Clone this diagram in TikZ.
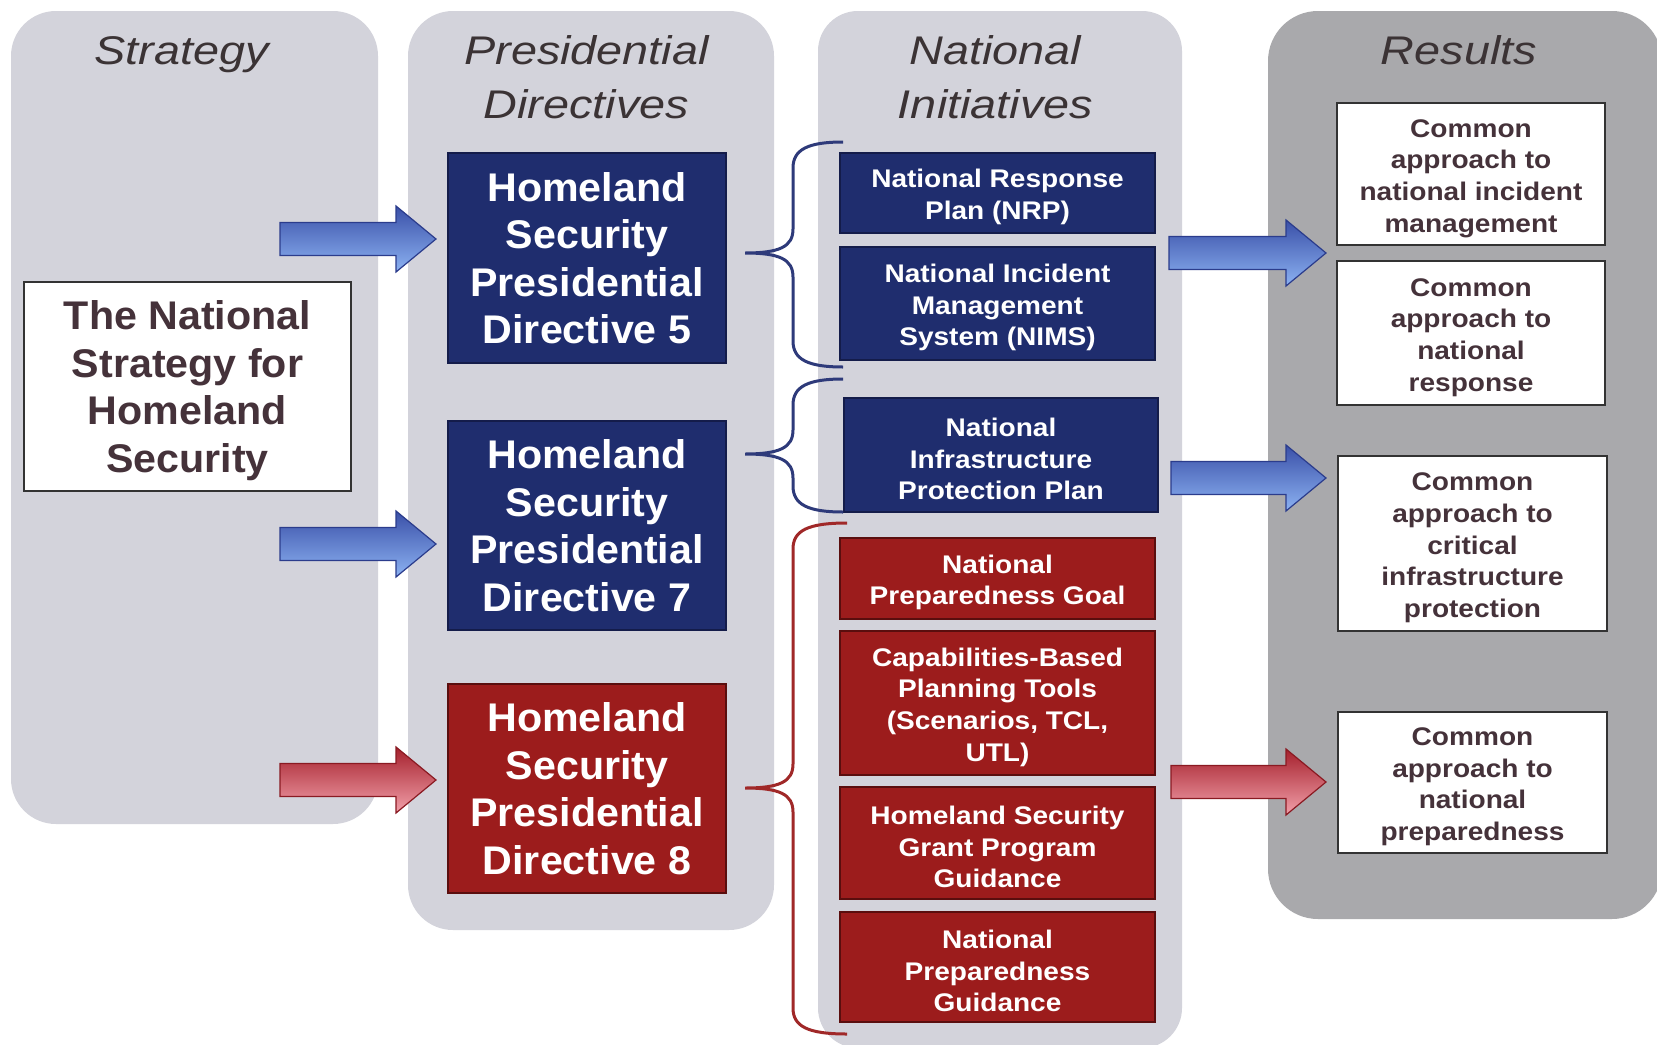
\documentclass[tikz,border=0pt]{standalone}
\usepackage{fontspec}
\setmainfont{Liberation Sans}
\newfontfamily\ttlfont{Liberation Sans}[FakeStretch=1.17]
\newfontfamily\bigfont{Liberation Sans}[FakeStretch=1.03]
\newfontfamily\smlfont{Liberation Sans}[FakeStretch=1.10]
\definecolor{panel}{HTML}{D3D3DB}
\definecolor{respanel}{HTML}{A9A9AC}
\definecolor{ttlc}{HTML}{3B3335}
\definecolor{wtext}{HTML}{45323A}
\definecolor{wline}{HTML}{333333}
\definecolor{bfill}{HTML}{1F2D6E}
\definecolor{bline}{HTML}{141C4A}
\definecolor{rfill}{HTML}{9C1C1C}
\definecolor{rline}{HTML}{5A0E0E}
\definecolor{abtop}{HTML}{3A50A8}
\definecolor{abbot}{HTML}{8CB2F2}
\definecolor{abline}{HTML}{2B3C8C}
\definecolor{artop}{HTML}{A5202C}
\definecolor{arbot}{HTML}{F2A0AA}
\definecolor{arline}{HTML}{8A1A22}
\definecolor{braceb}{HTML}{2E3A7A}
\definecolor{bracer}{HTML}{A02828}
\newcommand\smup{\rule{0pt}{26.5pt}}
\newcommand\bigup{\rule{0pt}{37pt}}
\newcommand\blockarrow[4]{%
  \shade[#1] (#2,#4-16.5) -- (#3-40,#4-16.5) -- (#3-40,#4-33) -- (#3,#4)
    -- (#3-40,#4+33) -- (#3-40,#4+16.5) -- (#2,#4+16.5) -- cycle;}
\newcommand\curlybrace[7]{%
  \draw[#1] (#2,#3) .. controls (#7+14,#3) and (#7,#3+8) .. (#7,#3+26)
    -- (#7,#6-24) .. controls (#7,#6-6) and (#7-14,#6) .. (#5,#6)
    .. controls (#7-14,#6) and (#7,#6+6) .. (#7,#6+24)
    -- (#7,#4-26) .. controls (#7,#4-8) and (#7+14,#4) .. (#2,#4);}
\begin{document}
\begin{tikzpicture}[x=1pt,y=-1pt,
  ttl/.style={font=\ttlfont\itshape\fontsize{40}{48}\selectfont, text=ttlc, anchor=base, inner sep=0pt},
  bigtxt/.style={font=\bigfont\bfseries\fontsize{40}{47.5}\selectfont},
  smltxt/.style={font=\smlfont\bfseries\fontsize{25.5}{31.7}\selectfont},
  wbox/.style={draw=wline, line width=1.6pt, fill=white, text=wtext, align=center, inner sep=0pt},
  bbox/.style={draw=bline, line width=1.4pt, fill=bfill, text=white, align=center, inner sep=0pt},
  rbox/.style={draw=rline, line width=1.4pt, fill=rfill, text=white, align=center, inner sep=0pt},
  barrow/.style={top color=abtop, bottom color=abbot, draw=abline, line width=1.2pt},
  rarrow/.style={top color=artop, bottom color=arbot, draw=arline, line width=1.2pt},
  bbrace/.style={draw=braceb, line width=3pt},
  rbrace/.style={draw=bracer, line width=3pt}]
\useasboundingbox (0,0) rectangle (1657,1044);
\fill[white] (0,0) rectangle (1657,1044);
% panels
\fill[panel, rounded corners=45pt] (11,11) rectangle (378,824);
\fill[panel, rounded corners=45pt] (408,11) rectangle (774,930);
\fill[panel, rounded corners=40pt] (818,11) rectangle (1182,1048);
\fill[respanel, rounded corners=50pt] (1268,11) rectangle (1662,919);
% titles
\node[ttl] (t1) at (181.5,64) {Strategy};
\node[ttl] (t2a) at (586.5,64) {Presidential};
\node[ttl] (t2b) at (586.5,118) {Directives};
\node[ttl] (t3a) at (995.5,64) {National};
\node[ttl] (t3b) at (995.5,118) {Initiatives};
\node[ttl] (t4) at (1459,64) {Results};
% arrows
\blockarrow{barrow}{280}{436}{239}
\blockarrow{barrow}{280}{436}{544}
\blockarrow{rarrow}{280}{436}{780}
\blockarrow{barrow}{1169}{1326}{253}
\blockarrow{barrow}{1171}{1326}{478}
\blockarrow{rarrow}{1171}{1326}{782}
% strategy
\node[wbox, bigtxt, minimum width=327pt, minimum height=209pt] (strat) at (187.5,386.5)
  {\bigup The National\\Strategy for\\Homeland\\Security};
% directives
\node[bbox, bigtxt, minimum width=278pt, minimum height=210pt] (h5) at (587,258)
  {Homeland\\Security\\Presidential\\Directive 5};
\node[bbox, bigtxt, minimum width=278pt, minimum height=209pt] (h7) at (587,525.5)
  {Homeland\\Security\\Presidential\\Directive 7};
\node[rbox, bigtxt, minimum width=278pt, minimum height=209pt] (h8) at (587,788.5)
  {Homeland\\Security\\Presidential\\Directive 8};
% initiatives
\node[bbox, smltxt, minimum width=315pt, minimum height=80pt] (nrp) at (997.5,193)
  {\smup National Response\\Plan (NRP)};
\node[bbox, smltxt, minimum width=315pt, minimum height=113pt] (nims) at (997.5,303.5)
  {\smup National Incident\\Management\\System (NIMS)};
\node[bbox, smltxt, minimum width=314pt, minimum height=114pt] (nipp) at (1001,455)
  {\smup National\\Infrastructure\\Protection Plan};
\node[rbox, smltxt, minimum width=315pt, minimum height=81pt] (npg) at (997.5,578.5)
  {\smup National\\Preparedness Goal};
\node[rbox, smltxt, minimum width=315pt, minimum height=144pt] (cbpt) at (997.5,703)
  {\smup Capabilities-Based\\Planning Tools\\(Scenarios, TCL,\\UTL)};
\node[rbox, smltxt, minimum width=315pt, minimum height=112pt] (hsgp) at (997.5,843)
  {\smup Homeland Security\\Grant Program\\Guidance};
\node[rbox, smltxt, minimum width=315pt, minimum height=110pt] (npgd) at (997.5,967)
  {\smup National\\Preparedness\\Guidance};
% results
\node[wbox, smltxt, minimum width=268pt, minimum height=142pt] (r1) at (1471,174)
  {\smup Common\\approach to\\national incident\\management};
\node[wbox, smltxt, minimum width=268pt, minimum height=144pt] (r2) at (1471,333)
  {\smup Common\\approach to\\national\\response};
\node[wbox, smltxt, minimum width=269pt, minimum height=175pt] (r3) at (1472.5,543.5)
  {\smup Common\\approach to\\critical\\infrastructure\\protection};
\node[wbox, smltxt, minimum width=269pt, minimum height=141pt] (r4) at (1472.5,782.5)
  {\smup Common\\approach to\\national\\preparedness};
% braces
\curlybrace{bbrace}{843}{142}{367}{745}{253}{793}
\curlybrace{bbrace}{843}{379}{512}{745}{454}{793}
\curlybrace{rbrace}{847}{523}{1034}{745}{788}{793}
\end{tikzpicture}
\end{document}
